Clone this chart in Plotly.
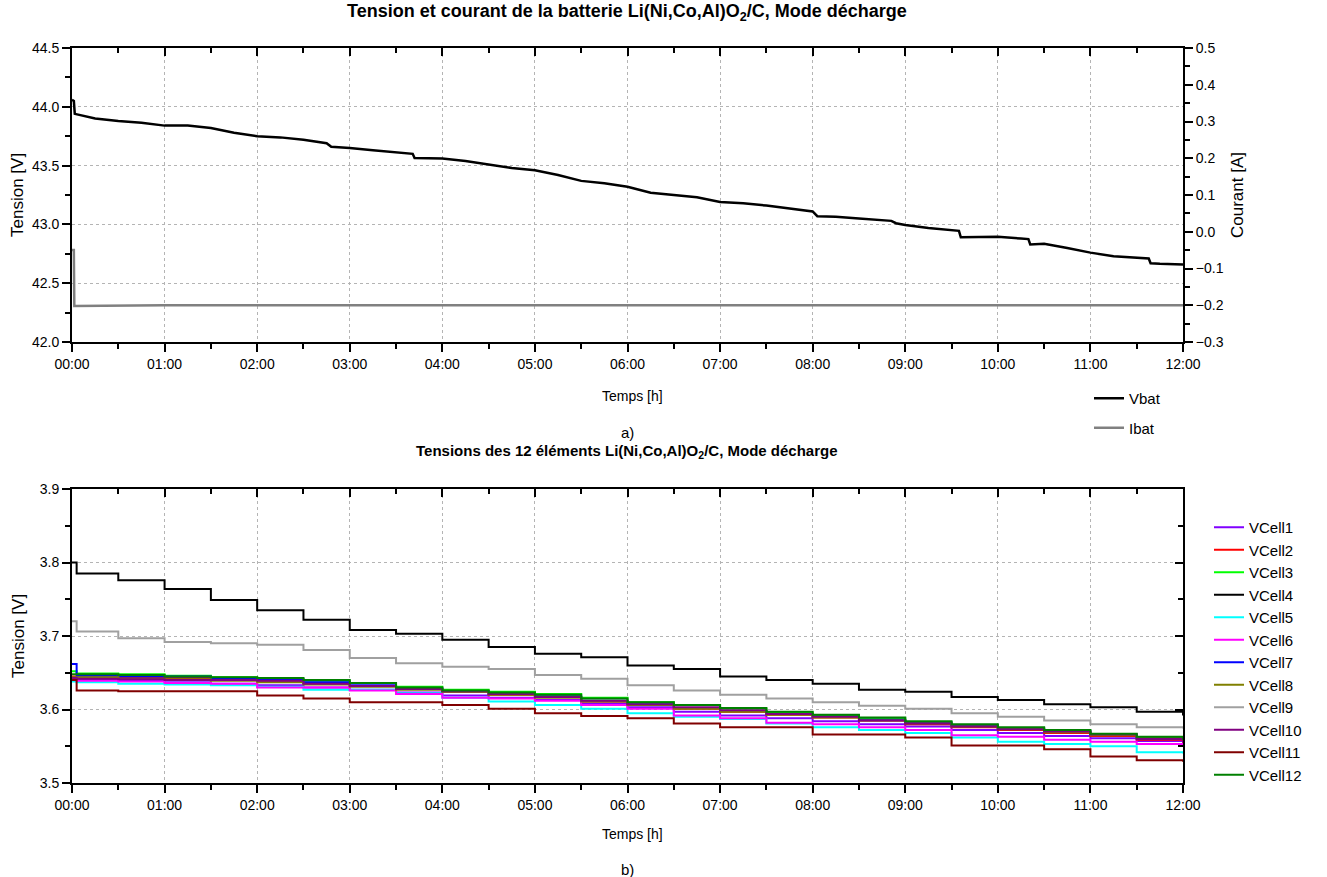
import plotly.graph_objects as go

W, H = 1327, 877

# --- data (hours since start) ---
vbat_t = [0.0, 0.02, 0.03, 0.25, 0.5, 0.75, 1.0, 1.25, 1.5, 1.75, 2.0, 2.25, 2.5, 2.75, 2.8, 3.0,
          3.25, 3.5, 3.68, 3.7, 4.0, 4.25, 4.5, 4.75, 5.0, 5.25, 5.5, 5.75, 6.0, 6.25, 6.5, 6.75,
          7.0, 7.25, 7.5, 7.75, 8.0, 8.05, 8.25, 8.5, 8.75, 8.85, 8.9, 9.0, 9.25, 9.5, 9.58, 9.6,
          9.75, 10.0, 10.25, 10.33, 10.35, 10.5, 10.75, 11.0, 11.25, 11.5, 11.63, 11.65, 11.75, 12.0]
vbat_v = [44.06, 44.05, 43.94, 43.90, 43.88, 43.865, 43.84, 43.84, 43.82, 43.78, 43.75, 43.74, 43.72,
          43.69, 43.66, 43.65, 43.63, 43.61, 43.60, 43.565, 43.56, 43.54, 43.51, 43.48, 43.46, 43.42,
          43.37, 43.35, 43.32, 43.27, 43.25, 43.23, 43.19, 43.18, 43.16, 43.135, 43.11, 43.07, 43.065,
          43.05, 43.04, 43.03, 43.01, 42.995, 42.97, 42.95, 42.945, 42.89, 42.89, 42.895, 42.88, 42.875,
          42.83, 42.835, 42.80, 42.76, 42.73, 42.72, 42.71, 42.67, 42.665, 42.66]

ibat_t = [0.0, 0.02, 0.025, 0.4, 1.0, 2.0, 3.0, 4.0, 5.0, 5.5, 6.0, 7.0, 8.0, 9.0, 9.6, 10.0, 10.35,
          11.0, 11.4, 11.65, 12.0]
ibat_v = [-0.05, -0.05, -0.202, -0.201, -0.2, -0.2, -0.2, -0.2, -0.2, -0.201, -0.2, -0.2, -0.2, -0.2,
          -0.202, -0.2, -0.201, -0.201, -0.2, -0.201, -0.2]

cell_t = [0, 0.05, 0.5, 1, 1.5, 2, 2.5, 3, 3.5, 4, 4.5, 5, 5.5, 6, 6.5, 7, 7.5, 8, 8.5, 9, 9.5, 10,
          10.5, 11, 11.5, 12]
vcell1 = [3.642, 3.641, 3.639, 3.637, 3.635, 3.633, 3.630, 3.627, 3.623, 3.619, 3.616, 3.613, 3.608,
          3.603, 3.597, 3.592, 3.588, 3.584, 3.580, 3.577, 3.572, 3.568, 3.564, 3.561, 3.557, 3.553]
vcell2 = [3.645, 3.644, 3.644, 3.643, 3.641, 3.639, 3.636, 3.632, 3.628, 3.624, 3.620, 3.617, 3.611,
          3.606, 3.601, 3.597, 3.593, 3.589, 3.585, 3.580, 3.576, 3.572, 3.568, 3.564, 3.559, 3.555]
vcell3 = [3.652, 3.649, 3.648, 3.646, 3.644, 3.642, 3.639, 3.636, 3.631, 3.627, 3.624, 3.621, 3.616,
          3.610, 3.606, 3.601, 3.596, 3.592, 3.588, 3.583, 3.579, 3.575, 3.571, 3.566, 3.562, 3.558]
vcell4 = [3.800, 3.785, 3.776, 3.764, 3.749, 3.735, 3.722, 3.708, 3.703, 3.695, 3.685, 3.676, 3.671,
          3.660, 3.655, 3.645, 3.640, 3.635, 3.627, 3.624, 3.617, 3.613, 3.607, 3.603, 3.597, 3.592]
vcell5 = [3.638, 3.637, 3.635, 3.634, 3.633, 3.631, 3.627, 3.627, 3.622, 3.616, 3.611, 3.606, 3.601,
          3.595, 3.590, 3.587, 3.581, 3.576, 3.572, 3.568, 3.562, 3.556, 3.553, 3.550, 3.542, 3.540]
vcell6 = [3.640, 3.639, 3.638, 3.636, 3.635, 3.630, 3.630, 3.626, 3.621, 3.616, 3.615, 3.612, 3.606,
          3.601, 3.592, 3.588, 3.582, 3.580, 3.576, 3.572, 3.565, 3.563, 3.559, 3.556, 3.553, 3.550]
vcell7 = [3.662, 3.646, 3.645, 3.645, 3.643, 3.641, 3.637, 3.633, 3.629, 3.625, 3.621, 3.618, 3.612,
          3.607, 3.602, 3.598, 3.594, 3.590, 3.586, 3.582, 3.578, 3.574, 3.570, 3.566, 3.561, 3.557]
vcell8 = [3.644, 3.644, 3.642, 3.641, 3.639, 3.637, 3.634, 3.631, 3.627, 3.624, 3.620, 3.616, 3.611,
          3.606, 3.601, 3.597, 3.593, 3.589, 3.585, 3.581, 3.577, 3.573, 3.569, 3.565, 3.561, 3.557]
vcell9 = [3.720, 3.706, 3.697, 3.692, 3.690, 3.688, 3.681, 3.670, 3.663, 3.658, 3.655, 3.647, 3.642,
          3.633, 3.626, 3.620, 3.615, 3.610, 3.605, 3.601, 3.595, 3.590, 3.585, 3.580, 3.576, 3.574]
vcell10 = [3.643, 3.642, 3.641, 3.640, 3.640, 3.639, 3.635, 3.632, 3.628, 3.625, 3.621, 3.617, 3.612,
           3.607, 3.603, 3.599, 3.594, 3.590, 3.585, 3.581, 3.577, 3.573, 3.570, 3.566, 3.560, 3.555]
vcell11 = [3.640, 3.626, 3.625, 3.625, 3.625, 3.619, 3.615, 3.610, 3.610, 3.606, 3.601, 3.595, 3.591,
           3.588, 3.581, 3.576, 3.576, 3.566, 3.566, 3.562, 3.551, 3.551, 3.546, 3.536, 3.531, 3.529]
vcell12 = [3.648, 3.648, 3.647, 3.645, 3.644, 3.643, 3.640, 3.636, 3.630, 3.626, 3.623, 3.620, 3.615,
           3.610, 3.606, 3.602, 3.597, 3.593, 3.589, 3.584, 3.580, 3.576, 3.572, 3.567, 3.563, 3.559]

cells = [vcell1, vcell2, vcell3, vcell4, vcell5, vcell6, vcell7, vcell8, vcell9, vcell10, vcell11, vcell12]
cell_colors = ["#8000ff", "#ff0000", "#00ff00", "#000000", "#00ffff", "#ff00ff", "#0000ff",
               "#808000", "#a0a0a0", "#800080", "#800000", "#008000"]

hour_vals = list(range(13))
hour_text = ["%02d:00" % h for h in hour_vals]

FONT = "Liberation Sans, Arial, sans-serif"


def px(x):
    return x / W


def py(y):
    return 1 - y / H


fig = go.Figure()

fig.add_trace(go.Scatter(x=vbat_t, y=vbat_v, name="Vbat", mode="lines", legendgroup="v",
                         line=dict(color="black", width=2.5), xaxis="x", yaxis="y", legend="legend"))
fig.add_trace(go.Scatter(x=ibat_t, y=ibat_v, name="Ibat", mode="lines", legendgroup="i",
                         line=dict(color="#808080", width=2.5), xaxis="x", yaxis="y2", legend="legend"))
for i, vals in enumerate(cells):
    fig.add_trace(go.Scatter(x=cell_t, y=vals, name="VCell%d" % (i + 1), mode="lines",
                             line=dict(color=cell_colors[i], width=2, shape="hv"),
                             xaxis="x2", yaxis="y3", legend="legend2"))

# empty traces so the mirror axes get drawn
for xa, ya in [("x3", "y"), ("x4", "y3"), ("x2", "y4")]:
    fig.add_trace(go.Scatter(x=[], y=[], xaxis=xa, yaxis=ya, showlegend=False, hoverinfo="skip"))

xdom = [px(72), px(1183)]
top_dom = [py(342), py(48)]
bot_dom = [py(783), py(489)]

tickfont = dict(family=FONT, size=14, color="black")
base_x = dict(range=[0, 12], domain=xdom, tickmode="array", tickvals=hour_vals, ticktext=hour_text,
              ticks="outside", ticklen=8, tickwidth=1.5, tickcolor="black", showline=True,
              linecolor="black", linewidth=2, showgrid=True, gridcolor="#b4b4b4", griddash="dot",
              gridwidth=1, zeroline=False, tickfont=tickfont, automargin=False,
              minor=dict(dtick=0.5, tick0=0, ticks="outside", ticklen=5, tickwidth=1.5, tickcolor="black",
                         showgrid=False))
mirror_x = dict(range=[0, 12], domain=xdom, side="top", tickmode="array", tickvals=hour_vals,
                ticks="inside", ticklen=8, tickwidth=1.5, tickcolor="black", showline=True,
                linecolor="black", linewidth=2, showgrid=False, zeroline=False, showticklabels=False,
                automargin=False,
                minor=dict(dtick=0.5, tick0=0, ticks="inside", ticklen=5, tickwidth=1.5, tickcolor="black"))
base_y = dict(ticks="outside", ticklen=8, tickwidth=1.5, tickcolor="black", showline=True,
              linecolor="black", linewidth=2, showgrid=True, gridcolor="#b4b4b4", griddash="dot",
              gridwidth=1, zeroline=False, tickfont=tickfont, automargin=False)

fig.update_layout(
    xaxis=dict(base_x, anchor="y"),
    xaxis3=dict(mirror_x, anchor="y", overlaying="x"),
    yaxis=dict(base_y, domain=top_dom, range=[42.0, 44.5], dtick=0.5, tick0=42, tickformat=".1f",
               minor=dict(dtick=0.25, ticks="outside", ticklen=5, tickwidth=1.5, tickcolor="black",
                          showgrid=False), anchor="x"),
    yaxis2=dict(base_y, range=[-0.3, 0.5], dtick=0.1, tick0=-0.3, tickformat=".1f", side="right",
                overlaying="y", anchor="x", showgrid=False,
                minor=dict(dtick=0.05, ticks="outside", ticklen=5, tickwidth=1.5, tickcolor="black")),
    xaxis2=dict(base_x, anchor="y3"),
    xaxis4=dict(mirror_x, anchor="y3", overlaying="x2"),
    yaxis3=dict(base_y, domain=bot_dom, range=[3.5, 3.9], dtick=0.1, tick0=3.5, tickformat=".1f",
                minor=dict(dtick=0.05, ticks="outside", ticklen=5, tickwidth=1.5, tickcolor="black",
                           showgrid=False), anchor="x2"),
    yaxis4=dict(range=[3.5, 3.9], side="right", overlaying="y3", anchor="x2", dtick=0.1, tick0=3.5,
                ticks="inside", ticklen=8, tickwidth=1.5, tickcolor="black", showline=True,
                linecolor="black", linewidth=2, showgrid=False, zeroline=False, showticklabels=False,
                automargin=False,
                minor=dict(dtick=0.05, ticks="inside", ticklen=5, tickwidth=1.5, tickcolor="black")),
    legend=dict(x=px(1089), y=py(382), xanchor="left", yanchor="top", bgcolor="rgba(0,0,0,0)",
                font=dict(family=FONT, size=15, color="black"), tracegroupgap=7, itemwidth=30),
    legend2=dict(x=px(1209), y=py(511), xanchor="left", yanchor="top", bgcolor="rgba(0,0,0,0)",
                 font=dict(family=FONT, size=15, color="black"), tracegroupgap=0, itemwidth=30),
    width=W, height=H, margin=dict(l=0, r=0, t=0, b=0),
    paper_bgcolor="white", plot_bgcolor="white",
    font=dict(family=FONT, color="black"),
)

annots = [
    dict(text="<b>Tension et courant de la batterie Li(Ni,Co,Al)O<sub>2</sub>/C, Mode décharge</b>",
         x=627, y=12, size=18),
    dict(text="<b>Tensions des 12 éléments Li(Ni,Co,Al)O<sub>2</sub>/C, Mode décharge</b>",
         x=627, y=452, size=15),
    dict(text="Temps [h]", x=632, y=396, size=14),
    dict(text="Temps [h]", x=632, y=834, size=14),
    dict(text="a)", x=627, y=432, size=15),
    dict(text="b)", x=627, y=869, size=15),
    dict(text="Tension [V]", x=18, y=195, size=17, angle=-90),
    dict(text="Tension [V]", x=18, y=636, size=17, angle=-90),
    dict(text="Courant [A]", x=1238, y=195, size=17, angle=-90),
]
for a in annots:
    fig.add_annotation(text=a["text"], x=px(a["x"]), y=py(a["y"]), xref="paper", yref="paper",
                       xanchor="center", yanchor="middle", showarrow=False, textangle=a.get("angle", 0),
                       font=dict(family=FONT, size=a["size"], color="black"))

# drop the browser's default 8 px body margin so the figure sits at the page origin
fig.write_html("out.html", config={"displayModeBar": False},
               post_script="document.body.style.margin = '0px';")
